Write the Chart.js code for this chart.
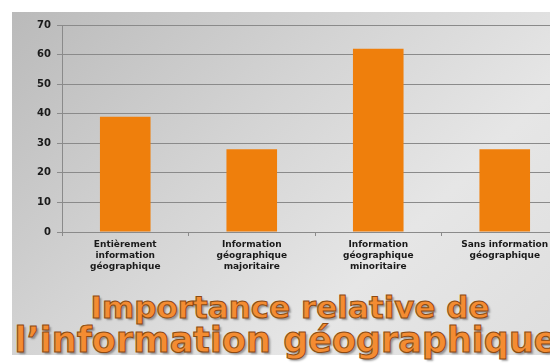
<!DOCTYPE html>
<html>
<head>
<meta charset="utf-8">
<script src="https://cdn.jsdelivr.net/npm/chart.js@4.4.1/dist/chart.umd.min.js"></script>
<style>
  html, body { margin: 0; padding: 0; background: #fff; overflow: hidden; }
  body { width: 550px; height: 363px; position: relative; }
  .fond {
    position: absolute; left: 12px; top: 12px; width: 538px; height: 343px;
    background: linear-gradient(135deg, #bababa 0%, #d4d4d4 40%, #e6e6e6 70%, #dedede 100%);
  }
  .graphe { position: absolute; left: 0; top: 0; width: 568px; height: 278px; }
  .titre {
    position: absolute; left: 0; width: 580px; text-align: center;
    font-family: "DejaVu Sans", sans-serif; font-weight: bold; color: #f48c32;
    -webkit-text-stroke: 1px #8c4a12; text-shadow: 2px 2px 2px rgba(0,0,0,0.35);
    white-space: nowrap; line-height: 1;
  }
</style>
</head>
<body>
<div class="fond"></div>
<div class="graphe"><canvas id="chartImportance"></canvas></div>
<div class="titre" style="top:292px;font-size:31px;">Importance relative de</div>
<div class="titre" style="top:323px;font-size:35px;left:-4px;">l’information géographique</div>
<script>
// Catégories (une ligne par élément du tableau)
const categories = [
    ['Entièrement', 'information', 'géographique'],
    ['Information', 'géographique', 'majoritaire'],
    ['Information', 'géographique', 'minoritaire'],
    ['Sans information', 'géographique']
];
// Pourcentages
const valeurs = [39, 28, 62, 28];
const yMax = 70;
const yPas = 10;

const ctx = document.getElementById('chartImportance').getContext('2d');
new Chart(ctx, {
    type: 'bar',
    data: {
        labels: categories,
        datasets: [{
            data: valeurs,
            backgroundColor: '#ef7f0c',
            borderWidth: 0,
            barPercentage: 0.4,
            categoryPercentage: 1
        }]
    },
    options: {
        responsive: true,
        maintainAspectRatio: false,
        animation: false,
        layout: { padding: { top: 25, left: 0, right: 0, bottom: 0 } },
        plugins: {
            legend: { display: false },
            tooltip: { enabled: false }
        },
        scales: {
            x: {
                grid: {
                    display: true,
                    offset: true,
                    drawOnChartArea: false,
                    drawTicks: true,
                    tickLength: 4,
                    color: '#8a8a8a'
                },
                border: { color: '#8a8a8a' },
                ticks: {
                    color: '#1a1a1a',
                    padding: 3,
                    maxRotation: 0,
                    autoSkip: false,
                    font: { family: 'DejaVu Sans', size: 9, weight: 'bold', lineHeight: 1.25 }
                },
                afterFit: function (scale) { scale.height = 46; }
            },
            y: {
                min: 0,
                max: yMax,
                grid: {
                    color: '#8a8a8a',
                    lineWidth: 1,
                    tickLength: 5
                },
                border: { color: '#8a8a8a' },
                ticks: {
                    stepSize: yPas,
                    color: '#1a1a1a',
                    padding: 6,
                    font: { family: 'DejaVu Sans', size: 10, weight: 'bold' }
                },
                afterFit: function (scale) { scale.width = 62; }
            }
        }
    }
});
</script>
</body>
</html>
